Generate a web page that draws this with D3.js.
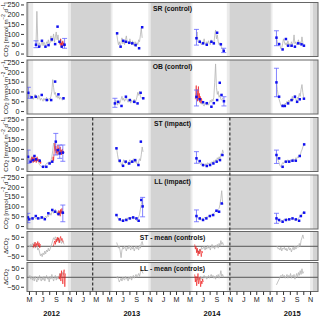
<!DOCTYPE html>
<html><head><meta charset="utf-8">
<script src="https://cdn.jsdelivr.net/npm/d3@7"></script>
<style>body{margin:0;background:#fff} svg{display:block;font-family:"Liberation Sans",Arial,sans-serif}</style>
</head><body><svg id="c" width="320" height="317"></svg>
<script>
// ---------------- DATA ----------------
const sites = ["SR (control)","OB (control)","ST (impact)","LL (impact)"];
const diffTitles = ["ST - mean (controls)","LL - mean (controls)"];
const yTicksCO2 = [0,50,100,150,200,250];
const yTicksDiff = [-50,0,50];
const monthLetters = ["J","F","M","A","M","J","J","A","S","O","N","D"];
const yearLabels = ["2012","2013","2014","2015"];
const yearLabelDates = ["2012-08-12","2013-08-12","2014-08-12","2015-08-12"];
// open-water seasons: [light start, white start, white end, light end]
const seasons = [
 ["2012-05-01","2012-05-20","2012-10-25","2012-11-08"],
 ["2013-05-08","2013-05-16","2013-10-26","2013-11-06"],
 ["2014-05-06","2014-05-15","2014-10-18","2014-10-31"],
 ["2015-05-06","2015-05-14","2015-11-01","2015-11-14"]];
const impactDates = ["2013-02-15","2014-11-01"];

// continuous records: [start date, step in days, values]
const greySR = [
 ["2012-06-02",4,[45,215,60,40,55,35,50,62,40,58,45,38,60,52,70,48,55,90,60,75,100,58,85,110,70,95,60,50,75,45,60,40,55]],
 ["2013-06-04",4,[100,70,45,60,40,55,80,50,65,45,70,90,55,60,48,75,55,45,65,50,40,60,35,55,45,70,60,95,130,80]],
 ["2014-06-01",4,[80,110,60,55,70,50,45,60,55,75,50,45,60,52,65,50,45,70,55,62,48,90,120,75,95,60,45,55,40,30,20,15]],
 ["2015-06-01",4,[80,60,45,55,40,25,30,50,75,60,45,55,40,65,45,50,35,60,45,55,95,50,60,45,55,70,45,60,50,85,55,45]]];
const redSR = [["2012-09-18",2,[60,45,75,35,55,30,50,65,40,55,35]]];
const greyOB = [
 ["2012-05-01",4,[90,70,80,65,75,60,70,85,65,75,60,80,70,55,65,60,50,65,55,60,70,58,52,65,60,75,100,160,120,85,95,70,80,65,75,60,70,65,55,60,65]],
 ["2013-05-27",4,[40,55,45,30,50,35,45,60,75,55,65,50,60,70,55,45,60,50,40,55,45,50,60,40,55,70,95,80,100,75,65,70,60]],
 ["2014-06-01",4,[70,90,60,55,50,40,35,45,30,25,40,35,30,45,30,40,55,45,60,50,70,145,240,120,85,100,70,80,60,55,65,60]],
 ["2015-06-01",4,[150,110,80,60,45,30,25,35,20,30,40,35,50,40,55,45,60,50,75,55,65,80,60,50,70,65,90,75,110,135,95,70]]];
const redOB = [["2014-05-28",2,[60,95,130,70,110,50,85,125,60,90,45,75,55,40,65,50,45]]];
const greyST = [
 ["2012-05-01",4,[55,40,50,35,60,45,40,50,35,45,40,30,20,15,10,12,8,15,10,20,25,30,22,35,30,40,60,90,130,110,95,80,100,85,70,90,80,95,75,85,80]],
 ["2013-06-04",4,[100,70,45,30,40,25,15,30,45,35,25,40,30,20,35,45,30,40,35,50,40,30,45,25,20,35,50,40,70,110,85]],
 ["2014-06-01",4,[55,45,40,35,25,20,30,15,10,20,15,25,20,30,25,20,30,25,35,30,40,35,45,40,55,45,60,50,75,65,95,80]],
 ["2015-06-01",4,[70,55,40,30,15,10,20,30,25,35,40,30,35,45,40,35,45,38,42,50,45,40,55,50,60,55,70,65,85,95,110,120]]];
const redST = [
 ["2012-05-10",2,[50,35,60,40,55,30,45,65,35,50,40,55,30,45,60,38,50,42,35,48,30,40,25,35]],
 ["2012-08-15",2,[30,45,60,40,75,100,130,90,115,80,100,70,95,120,85,105,75,90,110,80,95,70,85,100,75,90,80,85]]];
const greyLL = [
 ["2012-05-01",4,[40,45,35,40,30,38,45,40,35,42,38,45,40,35,42,38,48,40,45,50,42,55,48,60,65,55,70,80,65,75,85,70,60,75,65,70,80,65,75,70,65]],
 ["2013-06-04",4,[55,45,35,30,38,25,30,35,28,32,38,30,42,35,45,40,38,45,40,35,42,38,30,28,35,45,60,85,110,130,100]],
 ["2014-06-01",4,[50,45,40,35,38,30,35,40,38,42,45,40,48,45,50,55,52,58,55,60,65,70,75,80,70,85,90,110,140,180,120,110]],
 ["2015-06-01",4,[45,35,28,25,20,25,30,28,32,35,30,38,35,32,38,35,40,35,32,38,35,30,28,35,32,40,45,50,55,60,70,75]]];
const redLL = [["2012-09-10",2,[70,55,80,60,75,50,85,65,70,90,60,75,65,70]]];
const greyDST = [
 ["2012-05-01",4,[5,-5,10,0,15,5,20,-10,0,10,-20,-10,-30,-50,-40,-55,-35,-45,-25,-40,-20,-30,-10,-25,-15,0,15,30,45,35,50,40,30,45,20,35,25,15,30,20,10]],
 ["2013-06-04",4,[20,5,-10,0,-25,-60,-20,-5,-15,0,-10,-25,-5,-15,5,-10,-20,0,-15,-5,-25,-10,0,-15,-5,-20,5,-10,15,25,5]],
 ["2014-06-01",4,[-10,-30,-20,-40,-15,-25,-5,-15,-10,0,-20,-5,-15,5,-10,0,-20,-5,10,-10,0,-15,5,-5,10,-10,15,0,30,10,20,5]],
 ["2015-06-01",4,[-5,0,-15,-10,-20,-5,-25,-10,-15,-5,-20,-10,-25,-15,-5,-20,-10,-30,-15,-5,-20,0,-15,-10,5,-5,15,0,30,45,60,40]]];
const redDST = [
 ["2012-05-20",3,[-10,10,0,22,-5,15,5,25,0,18,-8,12]],
 ["2012-08-20",3,[0,15,28,10,38,22,48,30,45,18,40,52,30,42,35,20]],
 ["2014-05-25",3,[10,-15,0,-35,-10,-50,-25,-40,-15,-30,-55,-25,-35]]];
const greyDLL = [
 ["2012-05-01",4,[-5,10,-10,5,-15,0,-20,5,-10,-25,0,-15,10,-10,-20,0,-15,5,-20,-5,10,-10,0,-25,5,-10,15,-5,-20,0,10,-15,5,-10,0,20,-5,10,25,15,20]],
 ["2013-06-04",4,[-5,5,-10,-25,-15,-5,-20,0,-10,-15,5,-10,-5,-20,0,-10,5,-15,0,10,-5,5,15,0,10,20,5,25,40,30,20]],
 ["2014-06-01",4,[-20,-5,-15,0,-10,5,-5,-15,0,10,-5,5,-10,0,10,-5,5,15,0,10,-5,5,-10,10,0,15,-5,10,35,5,15,0]],
 ["2015-06-01",4,[-40,-30,-20,-10,0,10,5,15,0,10,-5,5,15,-5,10,0,20,-5,10,0,15,-10,5,20,0,25,10,35,15,45,20,30]]];
const redDLL = [
 ["2012-09-14",3,[5,-10,20,-20,35,0,-35,25,40,-50,20]],
 ["2014-05-25",3,[15,-25,5,-45,-10,20,-35,-15,0,-50,-20,-35,-10,-25]]];

// discrete samples: [date, value, errLow, errHigh]
const ptsSR = [
 ["2012-06-02",45,30,65],["2012-06-16",35],["2012-06-29",65],["2012-07-15",35],["2012-07-29",43],["2012-08-13",72],["2012-08-28",48],["2012-09-08",137],["2012-09-17",60],["2012-09-27",35],["2012-10-10",45,27,77],
 ["2013-06-06",103],["2013-06-22",35],["2013-07-04",65],["2013-07-16",60],["2013-07-31",55],["2013-08-14",52],["2013-08-29",43],["2013-09-14",27],["2013-09-28",134],
 ["2014-06-02",78,43,123],["2014-06-17",60],["2014-07-02",52],["2014-07-19",45],["2014-08-09",60],["2014-08-20",52],["2014-09-04",106],["2014-09-21",47],["2014-10-04",14,5,27],
 ["2015-06-01",81,40,116],["2015-06-13",48],["2015-06-29",21],["2015-07-14",74],["2015-07-24",40],["2015-08-09",40],["2015-08-24",35],["2015-09-08",52],["2015-09-23",47],["2015-10-04",40]];
const ptsOB = [
 ["2012-04-28",93,65,121],["2012-05-13",70],["2012-06-01",73],["2012-06-28",82],["2012-07-21",56],["2012-08-10",56],["2012-08-28",150],["2012-09-12",85],["2012-10-05",65],
 ["2013-05-27",39,19,65],["2013-06-11",47],["2013-06-26",26],["2013-07-16",73],["2013-08-03",56],["2013-08-23",47],["2013-09-07",39],["2013-09-21",93],["2013-10-03",65],
 ["2014-06-02",72,26,107],["2014-06-17",60],["2014-07-02",45],["2014-07-19",40],["2014-08-09",22],["2014-08-20",40],["2014-09-04",56],["2014-09-16",144],["2014-09-24",82],["2014-10-05",50,26,73],
 ["2015-06-01",146,73,218],["2015-06-13",73],["2015-06-29",26],["2015-07-09",26],["2015-07-24",39],["2015-08-09",56],["2015-08-24",73],["2015-09-03",47],["2015-09-15",60],["2015-10-04",63]];
const ptsST = [
 ["2012-04-27",60,27,94],["2012-05-08",35],["2012-05-19",43],["2012-05-26",64],["2012-06-02",47],["2012-06-19",40],["2012-07-04",9],["2012-07-19",9],["2012-08-03",26],["2012-08-15",35],["2012-08-31",137,69,179],["2012-09-10",94],["2012-09-18",77,52,120],["2012-10-02",81,37,120],
 ["2013-06-03",103],["2013-06-18",40],["2013-07-03",14],["2013-07-15",35],["2013-07-31",26],["2013-08-14",35],["2013-08-27",43],["2013-09-11",18],["2013-09-22",137],
 ["2014-06-02",52,27,86],["2014-06-17",38],["2014-07-02",18],["2014-07-19",13],["2014-08-03",18],["2014-08-18",26],["2014-09-02",35],["2014-09-17",43],["2014-09-28",69],
 ["2015-06-01",69,26,94],["2015-06-13",52],["2015-06-29",9],["2015-07-14",35],["2015-07-29",35],["2015-08-13",40],["2015-08-28",40],["2015-09-15",64],["2015-10-05",123]];
const ptsLL = [
 ["2012-04-26",44,17,65],["2012-05-02",34],["2012-05-17",39],["2012-06-01",51],["2012-06-12",39],["2012-06-28",44],["2012-07-12",35],["2012-07-28",65],["2012-08-15",82],["2012-08-28",73],["2012-09-12",61],["2012-10-02",68,22,107],
 ["2013-06-03",56],["2013-06-18",34],["2013-07-03",27],["2013-07-18",31],["2013-08-03",39],["2013-08-18",44],["2013-09-02",39],["2013-09-12",27],["2013-09-24",133],["2013-09-30",100,47,146],
 ["2014-06-02",51,22,82],["2014-06-17",39],["2014-07-02",31],["2014-07-17",39],["2014-08-02",51],["2014-08-17",56],["2014-09-01",78],["2014-09-13",73],["2014-09-25",115],
 ["2015-06-01",39,14,65],["2015-06-13",31],["2015-06-29",22],["2015-07-14",31],["2015-07-29",34],["2015-08-13",39],["2015-08-28",34],["2015-09-12",27],["2015-09-20",51],["2015-10-05",68]];

// ---------------- DRAW ----------------
const parse = d3.timeParse("%Y-%m-%d");
const svg = d3.select("#c");
const x = d3.scaleTime().domain([new Date(2012,3,22), new Date(2015,11,7)]).range([27,318]);
const X0 = 27, X1 = 318;

const panels = [
 {top:2.5,h:54,dom:[-15,260],title:sites[0],grey:greySR,red:redSR,pts:ptsSR,ticks:yTicksCO2},
 {top:60,h:54,dom:[-15,260],title:sites[1],grey:greyOB,red:redOB,pts:ptsOB,ticks:yTicksCO2},
 {top:117.5,h:54,dom:[-15,260],title:sites[2],grey:greyST,red:redST,pts:ptsST,ticks:yTicksCO2},
 {top:175,h:54,dom:[-15,260],title:sites[3],grey:greyLL,red:redLL,pts:ptsLL,ticks:yTicksCO2},
 {top:231.5,h:29,dom:[-75,78],title:diffTitles[0],grey:greyDST,red:redDST,pts:[],ticks:yTicksDiff,diff:true},
 {top:262.5,h:29,dom:[-75,78],title:diffTitles[1],grey:greyDLL,red:redDLL,pts:[],ticks:yTicksDiff,diff:true}];

function seg2pts(seg){
  const s = parse(seg[0]);
  return seg[2].map((v,i)=>({d:d3.timeDay.offset(s, i*seg[1]), v}));
}

const defs = svg.append("defs");
panels.forEach((p,i)=>{
  const y = d3.scaleLinear().domain(p.dom).range([p.top+p.h, p.top]);
  const g = svg.append("g");
  defs.append("clipPath").attr("id","cp"+i).append("rect")
    .attr("x",X0).attr("y",p.top).attr("width",X1-X0).attr("height",p.h);
  g.append("rect").attr("x",X0).attr("y",p.top).attr("width",X1-X0).attr("height",p.h).attr("fill","#d3d3d3");
  const body = g.append("g").attr("clip-path",`url(#cp${i})`);
  seasons.forEach(s=>{
    body.append("rect").attr("x",x(parse(s[0]))).attr("y",p.top)
      .attr("width",x(parse(s[3]))-x(parse(s[0]))).attr("height",p.h).attr("fill","#ebebeb");
    body.append("rect").attr("x",x(parse(s[1]))).attr("y",p.top)
      .attr("width",x(parse(s[2]))-x(parse(s[1]))).attr("height",p.h).attr("fill","#ffffff");
  });
  if(p.diff){
    body.append("line").attr("x1",X0).attr("x2",X1).attr("y1",y(0)).attr("y2",y(0))
      .attr("stroke","#555").attr("stroke-width",1);
  }
  const line = d3.line().x(d=>x(d.d)).y(d=>y(d.v));
  p.grey.forEach(seg=>{
    body.append("path").attr("d",line(seg2pts(seg))).attr("fill","none")
      .attr("stroke","#b4b4b4").attr("stroke-width",0.8);
  });
  p.red.forEach(seg=>{
    body.append("path").attr("d",line(seg2pts(seg))).attr("fill","none")
      .attr("stroke","#ee1111").attr("stroke-width",0.7).attr("stroke-opacity",0.85);
  });
  p.pts.forEach(pt=>{
    const cx = x(parse(pt[0]));
    if(pt.length>2){
      const eb = body.append("g").attr("stroke","#6464ff").attr("stroke-width",0.8);
      eb.append("line").attr("x1",cx).attr("x2",cx).attr("y1",y(pt[2])).attr("y2",y(pt[3]));
      eb.append("line").attr("x1",cx-2.5).attr("x2",cx+2.5).attr("y1",y(pt[2])).attr("y2",y(pt[2]));
      eb.append("line").attr("x1",cx-2.5).attr("x2",cx+2.5).attr("y1",y(pt[3])).attr("y2",y(pt[3]));
    }
    body.append("rect").attr("x",cx-1.25).attr("y",y(pt[1])-1.25).attr("width",2.5).attr("height",2.5)
      .attr("fill","#1010f0");
  });
  g.append("rect").attr("x",X0).attr("y",p.top).attr("width",X1-X0).attr("height",p.h)
    .attr("fill","none").attr("stroke","#666").attr("stroke-width",1);
  g.append("text").attr("x",(X0+X1)/2).attr("y",p.top+8.5).attr("text-anchor","middle")
    .attr("font-size",6.8).attr("font-weight","bold").attr("fill","#111").text(p.title);
  const ax = g.append("g").attr("transform",`translate(24,0)`)
    .call(d3.axisLeft(y).tickValues(p.ticks).tickSize(3).tickPadding(1.5));
  ax.select(".domain").remove();
  ax.selectAll("text").attr("font-size",7.2).attr("fill","#222").attr("font-family","Liberation Sans, Arial, sans-serif");
  ax.selectAll("line").attr("stroke","#333");
  // y title
  const cy = p.top + p.h/2;
  const t = g.append("text").attr("transform",`translate(7.5,${cy}) rotate(-90)`)
    .attr("text-anchor","middle").attr("font-size",6.2).attr("fill","#222");
  if(p.diff){
    t.append("tspan").text("\u0394CO");
    t.append("tspan").attr("font-size",4.5).attr("dy",1.5).text("2");
  } else {
    t.append("tspan").text("CO");
    t.append("tspan").attr("font-size",4.5).attr("dy",1.5).text("2");
    t.append("tspan").attr("dy",-1.5).text(" [mmol m");
    t.append("tspan").attr("font-size",4.5).attr("dy",-2.5).text("\u22122");
    t.append("tspan").attr("dy",2.5).text(" d");
    t.append("tspan").attr("font-size",4.5).attr("dy",-2.5).text("\u22121");
    t.append("tspan").attr("dy",2.5).text("]");
  }
});

// impact dashed lines
impactDates.forEach(dt=>{
  svg.append("line").attr("x1",x(parse(dt))).attr("x2",x(parse(dt)))
    .attr("y1",panels[2].top).attr("y2",panels[5].top+panels[5].h)
    .attr("stroke","#222").attr("stroke-width",1.1).attr("stroke-dasharray","3,2");
});

// x axis
const bottom = panels[5].top + panels[5].h;
const months = d3.timeMonth.range(new Date(2012,4,1), new Date(2015,10,2));
const xa = svg.append("g").attr("transform",`translate(0,${bottom})`)
  .call(d3.axisBottom(x).tickValues(months).tickSize(3.5).tickPadding(2)
    .tickFormat(d=> d.getMonth()%2===0 ? monthLetters[d.getMonth()] : ""));
xa.select(".domain").remove();
xa.selectAll("text").attr("font-size",7.2).attr("fill","#222").attr("font-family","Liberation Sans, Arial, sans-serif");
xa.selectAll("line").attr("stroke","#333");
yearLabels.forEach((yl,i)=>{
  svg.append("text").attr("x",x(parse(yearLabelDates[i]))).attr("y",316).attr("text-anchor","middle")
    .attr("font-size",7.6).attr("font-weight","bold").attr("fill","#111").text(yl);
});
</script></body></html>
